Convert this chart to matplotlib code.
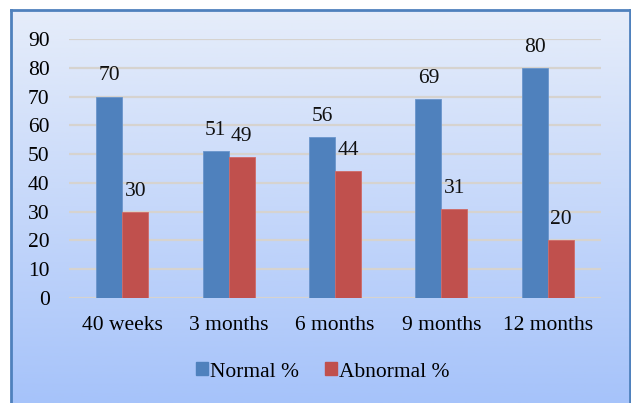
import numpy as np
import matplotlib
matplotlib.use("Agg")
import matplotlib.pyplot as plt
from matplotlib.patches import Rectangle
from matplotlib.colors import LinearSegmentedColormap

categories = ["40 weeks", "3 months", "6 months", "9 months", "12 months"]
normal = [70, 51, 56, 69, 80]
abnormal = [30, 49, 44, 31, 20]
yticks = [0, 10, 20, 30, 40, 50, 60, 70, 80, 90]

W, H = 631, 403
fig = plt.figure(figsize=(W / 100, H / 100), dpi=100)
plt.rcParams['font.family'] = ['Liberation Serif', 'DejaVu Serif']
FS = 15.5

# background gradient box
bg = fig.add_axes([11 / W, 0, (630 - 11) / W, (H - 10) / H])
cmap = LinearSegmentedColormap.from_list("g", ["#E6EDFA", "#A6C3FA"])
grad = np.linspace(0, 1, 256).reshape(-1, 1)
bg.imshow(grad, aspect="auto", cmap=cmap, extent=[0, 1, 0, 1], origin="upper")
bg.set_xlim(0, 1); bg.set_ylim(0, 1)
bg.set_xticks([]); bg.set_yticks([])
for s in ["left", "right", "top"]:
    bg.spines[s].set_color("#4F81BD")
    bg.spines[s].set_linewidth(2)
bg.spines["bottom"].set_visible(False)

# plot axes: x from 69 to 601, y0 at 298, y90 at 39
left, right = 69, 601
y0, y90 = 298, 39
ax = fig.add_axes([left / W, (H - y0) / H, (right - left) / W, (y0 - y90) / H])
ax.patch.set_visible(False)
x = np.arange(len(categories))
bw = 0.245
b1 = ax.bar(x - bw / 2, normal, bw, color="#4F81BD", zorder=3, edgecolor="#6A95CC", linewidth=0.6)
b2 = ax.bar(x + bw / 2, abnormal, bw, color="#C0504D", zorder=3, edgecolor="#D06A67", linewidth=0.6)
for bars, vals in [(b1, normal), (b2, abnormal)]:
    for r, v in zip(bars, vals):
        ax.annotate(str(v), (r.get_x() + r.get_width() / 2, v), xytext=(0, 8),
                    textcoords="offset points", ha="center", va="bottom", fontsize=FS, color="#111111")
ax.set_xlim(-0.5, len(categories) - 0.5)
ax.set_ylim(0, 90)
ax.set_yticks(yticks)
ax.set_yticklabels([str(t) for t in yticks], fontsize=FS)
ax.set_xticks(x)
ax.set_xticklabels(categories, fontsize=FS)
ax.tick_params(axis="y", length=0, pad=14)
ax.tick_params(axis="x", length=0, pad=13)
ax.yaxis.grid(True, color="#D6D3CF", linewidth=1.6, zorder=0)
for s in ax.spines.values():
    s.set_visible(False)

handles = [Rectangle((0, 0), 1, 1, color="#4F81BD"), Rectangle((0, 0), 1, 1, color="#C0504D")]
fig.legend(handles, ["Normal %", "Abnormal %"], loc="center", bbox_to_anchor=(323 / W, 1 - 372 / H),
           ncol=2, frameon=False, fontsize=FS, handlelength=0.55, handleheight=0.55,
           handletextpad=0.1, columnspacing=1.2)

fig.savefig("out.png", dpi=100)
